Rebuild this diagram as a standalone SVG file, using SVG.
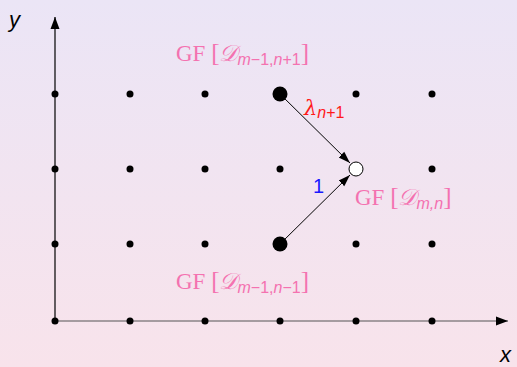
<svg xmlns="http://www.w3.org/2000/svg" width="517" height="367" viewBox="0 0 517 367">
<defs>
<linearGradient id="bg" x1="0" y1="0" x2="0" y2="1">
<stop offset="0" stop-color="#ebe5f6"/>
<stop offset="1" stop-color="#f8e3eb"/>
</linearGradient>
<marker id="ah" viewBox="0 0 12 10" refX="12" refY="5" markerWidth="12" markerHeight="10" markerUnits="userSpaceOnUse" orient="auto">
<path d="M0,1 L12,5 L0,9 Z" fill="#000"/>
</marker>
<marker id="ax" viewBox="0 0 12 10" refX="12" refY="5" markerWidth="12" markerHeight="10" markerUnits="userSpaceOnUse" orient="auto">
<path d="M0,0.5 L12,5 L0,9.5 Z" fill="#000"/>
</marker>
</defs>
<style>
.dot{fill:#000}
.gf{font-family:"Liberation Serif","DejaVu Serif",serif;font-size:23px;fill:#f472b0}
.br{font-size:25px}
.sub{font-family:"Liberation Sans","DejaVu Sans",sans-serif;font-size:16px;font-style:italic}
.subn{font-family:"Liberation Sans","DejaVu Sans",sans-serif;font-size:16px;font-style:normal}
.ax{font-family:"Liberation Sans","DejaVu Sans",sans-serif;font-size:22px;font-style:italic;fill:#000}
.edge{stroke:#000;stroke-width:1;fill:none}
</style>
<rect width="517" height="367" fill="url(#bg)"/>
<g id="axes">
<line x1="55" y1="321" x2="55" y2="17" stroke="#000" stroke-width="1.2" marker-end="url(#ax)"/>
<line x1="55" y1="321" x2="508" y2="321" stroke="#555" stroke-width="1.2" marker-end="url(#ax)"/>
<text class="ax" x="9" y="27">y</text>
<text class="ax" x="500" y="362">x</text>
</g>
<g id="grid">
<circle class="dot" cx="55" cy="94" r="3.5"/><circle class="dot" cx="130" cy="94" r="3.5"/><circle class="dot" cx="205" cy="94" r="3.5"/><circle class="dot" cx="356" cy="94" r="3.5"/><circle class="dot" cx="432" cy="94" r="3.5"/>
<circle class="dot" cx="55" cy="169" r="3.5"/><circle class="dot" cx="130" cy="169" r="3.5"/><circle class="dot" cx="205" cy="169" r="3.5"/><circle class="dot" cx="280" cy="169" r="3.5"/><circle class="dot" cx="432" cy="169" r="3.5"/>
<circle class="dot" cx="55" cy="244" r="3.5"/><circle class="dot" cx="130" cy="244" r="3.5"/><circle class="dot" cx="205" cy="244" r="3.5"/><circle class="dot" cx="356" cy="244" r="3.5"/><circle class="dot" cx="432" cy="244" r="3.5"/>
<circle class="dot" cx="55" cy="321" r="3.5"/><circle class="dot" cx="130" cy="321" r="3.5"/><circle class="dot" cx="205" cy="321" r="3.5"/><circle class="dot" cx="280" cy="321" r="3.5"/><circle class="dot" cx="356" cy="321" r="3.5"/><circle class="dot" cx="432" cy="321" r="3.5"/>
</g>
<g id="connectors">
<line class="edge" x1="280" y1="94" x2="350" y2="163" marker-end="url(#ah)"/>
<line class="edge" x1="280" y1="244" x2="350" y2="175" marker-end="url(#ah)"/>
<text x="304" y="115" font-family="'DejaVu Serif',serif" font-style="italic" font-size="21" fill="#ff1a1a">λ<tspan class="sub" dy="3">n</tspan><tspan class="subn">+1</tspan></text>
<text x="313" y="193" font-family="'Liberation Sans',sans-serif" font-size="20" fill="#1a1aff">1</text>
</g>
<g id="node-top">
<circle cx="280" cy="94" r="7.5" fill="#000"/>
<text class="gf" x="176" y="61">GF <tspan class="br">[</tspan><tspan font-style="italic">𝒟</tspan><tspan class="sub" dy="4">m</tspan><tspan class="subn">−1,</tspan><tspan class="sub">n</tspan><tspan class="subn">+1</tspan><tspan class="br" dy="-4">]</tspan></text>
</g>
<g id="node-bottom">
<circle cx="280" cy="244" r="7.5" fill="#000"/>
<text class="gf" x="176" y="289">GF <tspan class="br">[</tspan><tspan font-style="italic">𝒟</tspan><tspan class="sub" dy="4">m</tspan><tspan class="subn">−1,</tspan><tspan class="sub">n</tspan><tspan class="subn">−1</tspan><tspan class="br" dy="-4">]</tspan></text>
</g>
<g id="node-target">
<circle cx="356" cy="169" r="7" fill="#fff" stroke="#000" stroke-width="1"/>
<text class="gf" x="355" y="205">GF <tspan class="br">[</tspan><tspan font-style="italic">𝒟</tspan><tspan class="sub" dy="4">m,n</tspan><tspan class="br" dy="-4">]</tspan></text>
</g>
</svg>
